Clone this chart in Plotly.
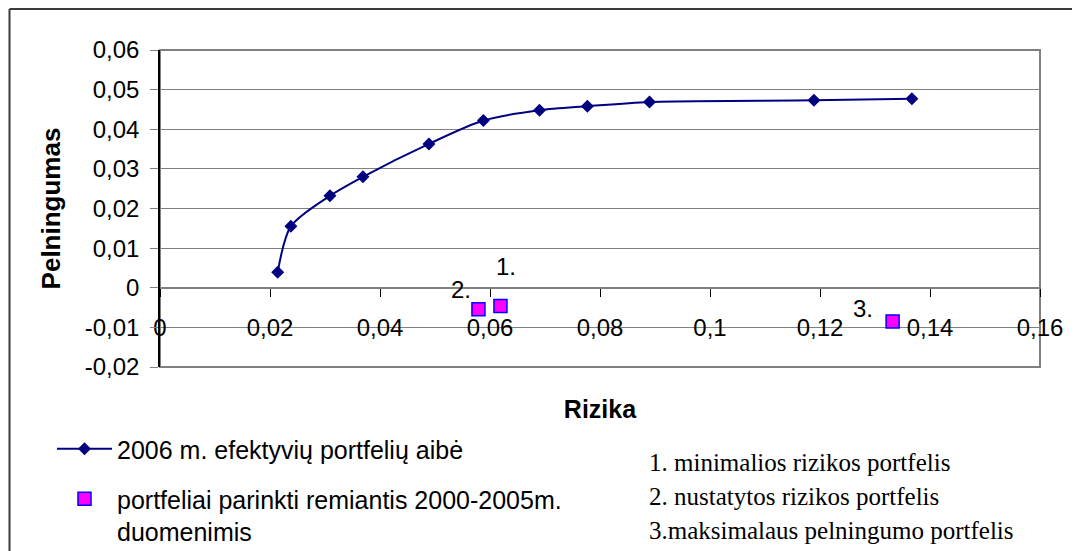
import plotly.graph_objects as go

# ---- data ----
risk = [0.0214, 0.0238, 0.0309, 0.0369, 0.0489, 0.0588, 0.0690, 0.0777, 0.0890, 0.1189, 0.1367]
ret = [0.0039, 0.0155, 0.0232, 0.0280, 0.0363, 0.0422, 0.0448, 0.0458, 0.0469, 0.0473, 0.0477]

pf_risk = [0.0619, 0.0579, 0.1332]
pf_ret = [-0.0046, -0.0054, -0.0085]
pf_labels = ["1.", "2.", "3."]

x_tickvals = [0, 0.02, 0.04, 0.06, 0.08, 0.10, 0.12, 0.14, 0.16]
x_ticktext = ["0", "0,02", "0,04", "0,06", "0,08", "0,1", "0,12", "0,14", "0,16"]
y_tickvals = [-0.02, -0.01, 0, 0.01, 0.02, 0.03, 0.04, 0.05, 0.06]
y_ticktext = ["-0,02", "-0,01", "0", "0,01", "0,02", "0,03", "0,04", "0,05", "0,06"]

series1_name = "2006 m. efektyvių portfelių aibė"
series2_name = "portfeliai parinkti remiantis 2000-2005m.<br>duomenimis"
notes = ["1. minimalios rizikos portfelis",
         "2. nustatytos rizikos portfelis",
         "3.maksimalaus pelningumo portfelis"]

# ---- layout geometry (page pixels; page body has an 8px margin) ----
OFF = 8
PAGE_W, PAGE_H = 1080, 551
FW, FH = PAGE_W - OFF, PAGE_H - OFF
L, R, T, B = 160, 1040, 50, 367
PW, PH = R - L, B - T


def fx(px):
    return (px - L) / PW


def fy(py):
    return (B - py) / PH


SANS = "Liberation Sans, Arial, sans-serif"
SERIF = "Liberation Serif, Times New Roman, serif"
GRID = "#808080"

fig = go.Figure()

fig.add_trace(go.Scatter(
    x=risk, y=ret, mode="lines+markers", name=series1_name,
    line=dict(color="#000080", width=2, shape="spline", smoothing=0.8),
    marker=dict(symbol="diamond", size=10, color="#000080"),
    legend="legend", cliponaxis=False,
))

fig.add_trace(go.Scatter(
    x=pf_risk, y=pf_ret, mode="markers", name=series2_name,
    marker=dict(symbol="square", size=13, color="#FF00FF",
                line=dict(color="#0000FF", width=1.5)),
    legend="legend2", cliponaxis=False,
))

# data labels for the portfolios
label_shift = [(6, 39), (-17, 20), (-30, 13)]
for xv, yv, lab, (dx, dy) in zip(pf_risk, pf_ret, pf_labels, label_shift):
    fig.add_annotation(x=xv, y=yv, text=lab, showarrow=False,
                       xshift=dx, yshift=dy, xanchor="center", yanchor="middle",
                       font=dict(family=SANS, size=24, color="black"))

# notes on the right
note_y = [462, 496, 530]
for txt, py in zip(notes, note_y):
    fig.add_annotation(xref="paper", yref="paper", x=fx(647), y=fy(py),
                       text=txt, showarrow=False, xanchor="left", yanchor="middle",
                       font=dict(family=SERIF, size=25, color="black"))

# plot-area frame (gray) and outer chart border (top & left)
fig.add_shape(type="rect", xref="paper", yref="paper", x0=0, y0=0, x1=1, y1=1,
              line=dict(color=GRID, width=2), layer="below")
fig.add_shape(type="line", xref="paper", yref="paper",
              x0=fx(9.5), y0=fy(9), x1=fx(1085), y1=fy(9),
              line=dict(color="#3a3a3a", width=2))
fig.add_shape(type="line", xref="paper", yref="paper",
              x0=fx(9.5), y0=fy(9), x1=fx(9.5), y1=fy(560),
              line=dict(color="#3a3a3a", width=2))

fig.update_layout(
    width=FW, height=FH,
    margin=dict(l=L - OFF, r=FW - (R - OFF), t=T - OFF, b=FH - (B - OFF), autoexpand=False),
    paper_bgcolor="white", plot_bgcolor="white",
    font=dict(family=SANS, size=24, color="black"),
    showlegend=True,
    legend=dict(x=fx(52), y=fy(449), xanchor="left", yanchor="middle",
                font=dict(family=SANS, size=25, color="black"),
                itemwidth=55, bgcolor="rgba(0,0,0,0)", borderwidth=0),
    legend2=dict(x=fx(52), y=fy(476), xanchor="left", yanchor="top",
                 font=dict(family=SANS, size=25, color="black"),
                 itemwidth=55, valign="top", bgcolor="rgba(0,0,0,0)", borderwidth=0),
    xaxis=dict(
        range=[0, 0.16], tickvals=x_tickvals, ticktext=x_ticktext,
        anchor="free", position=0.25, automargin=False,
        showline=True, linecolor=GRID, linewidth=1.3,
        ticks="outside", ticklen=8, tickcolor="black", tickwidth=1,
        ticklabelstandoff=10,
        showgrid=False, zeroline=False,
        tickfont=dict(family=SANS, size=24, color="black"),
        title=dict(text="<b>Rizika</b>", font=dict(family=SANS, size=25, color="black"),
                   standoff=60),
    ),
    yaxis=dict(
        range=[-0.02, 0.06], tickvals=y_tickvals, ticktext=y_ticktext,
        automargin=False,
        showline=True, linecolor="black", linewidth=1.5,
        ticks="outside", ticklen=8, tickcolor=GRID, tickwidth=1.3,
        ticklabelstandoff=6,
        showgrid=True, gridcolor=GRID, gridwidth=1.3, zeroline=False,
        tickfont=dict(family=SANS, size=24, color="black"),
        title=dict(text="<b>Pelningumas</b>", font=dict(family=SANS, size=26, color="black"),
                   standoff=17),
    ),
)

fig.write_html("out.html")
